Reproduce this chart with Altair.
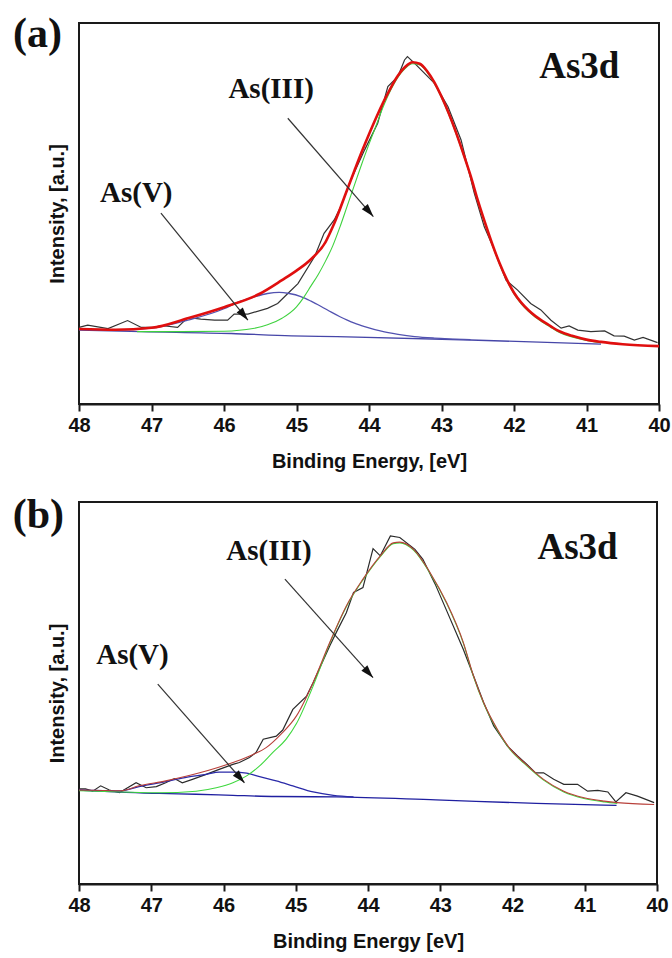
import math
import altair as alt
import pandas as pd

# ---------------- Panel (a): As3d spectrum and peak fit ----------------
# Binding energy (eV) / intensity (a.u.) pairs for each trace
A_RAW_E = [48.0, 47.88, 47.6, 47.33, 47.14, 46.96, 46.87, 46.64, 46.5, 46.32, 46.13, 45.95,
           45.86, 45.67, 45.4, 45.26, 45.12, 44.98, 44.75, 44.62, 44.48, 44.39, 44.25, 44.06,
           43.88, 43.74, 43.6, 43.51, 43.47, 43.37, 43.1, 42.91, 42.73, 42.55, 42.41, 42.27,
           42.11, 41.95, 41.77, 41.63, 41.49, 41.35, 41.24, 41.12, 40.94, 40.75, 40.62, 40.48,
           40.34, 40.22, 40.02]
A_RAW_I = [20.1, 20.7, 19.8, 21.9, 20.1, 20.1, 20.6, 20.1, 22.7, 22.3, 22.0, 22.0,
           23.6, 23.6, 25.1, 26.4, 29.0, 31.6, 38.7, 44.8, 48.3, 51.8, 58.8, 66.7,
           73.7, 83.3, 86.0, 90.3, 91.2, 89.4, 84.2, 78.0, 69.3, 55.5, 46.5, 40.4,
           32.5, 29.9, 26.4, 24.7, 22.0, 19.9, 20.5, 19.4, 19.0, 19.2, 17.9, 17.8,
           16.8, 17.5, 16.1]

A_ENV_E = [48.0, 47.5, 47.0, 46.5, 46.0, 45.5, 45.2, 45.0, 44.8, 44.6, 44.5, 44.4, 44.3,
           44.2, 44.1, 44.0, 43.9, 43.8, 43.7, 43.6, 43.5, 43.4, 43.3, 43.2, 43.1, 43.0,
           42.9, 42.8, 42.7, 42.6, 42.5, 42.4, 42.3, 42.2, 42.1, 42.0, 41.9, 41.8, 41.7,
           41.6, 41.5, 41.4, 41.3, 41.2, 41.0, 40.8, 40.5, 40.0]
A_ENV_I = [19.7, 19.5, 20.0, 22.5, 25.4, 29.0, 32.5, 35.0, 38.0, 42.5, 46.5, 51.2, 56.3,
           61.3, 66.2, 70.8, 75.2, 79.3, 83.0, 86.2, 88.5, 89.7, 89.3, 87.4, 84.5, 80.7,
           76.3, 71.3, 65.8, 60.0, 53.5, 47.6, 42.0, 37.0, 32.7, 29.2, 26.6, 24.6, 23.0,
           21.7, 20.5, 19.3, 18.5, 17.9, 16.9, 16.3, 15.7, 15.2]

A_III_E = [47.2, 46.6, 46.0, 45.6, 45.4, 45.2, 45.0, 44.9, 44.8, 44.7, 44.6, 44.5, 44.4,
           44.3, 44.2, 44.1, 44.0, 43.9, 43.8, 43.7, 43.6, 43.5, 43.4, 43.3, 43.2, 43.1,
           43.0, 42.9, 42.8, 42.7, 42.6, 42.5, 42.4, 42.3, 42.2, 42.1, 42.0, 41.9, 41.8,
           41.7, 41.6, 41.5, 41.4, 41.3, 41.2, 41.0, 40.8]
A_III_I = [19.0, 19.0, 19.1, 19.8, 20.8, 22.5, 25.5, 28.0, 31.0, 34.0, 37.5, 41.5, 46.5,
           52.0, 57.5, 63.0, 68.2, 73.2, 78.2, 82.4, 85.8, 88.1, 89.3, 89.0, 87.1, 84.2,
           80.4, 76.0, 71.0, 65.5, 59.7, 53.2, 47.3, 41.7, 36.7, 32.4, 28.9, 26.3, 24.3,
           22.7, 21.4, 20.2, 19.0, 18.2, 17.6, 16.7, 16.1]

A_V_E = [48.0, 47.5, 47.0, 46.5, 46.0, 45.8, 45.6, 45.4, 45.24, 45.1, 44.94, 44.8, 44.66,
         44.52, 44.4, 44.3, 44.2, 44.06, 43.83, 43.6, 43.37, 43.1, 42.9, 42.6]
A_V_I = [19.6, 19.4, 19.9, 22.0, 25.0, 26.8, 28.0, 29.0, 29.3, 29.0, 28.2, 27.0, 25.6,
         24.1, 22.9, 22.0, 21.2, 20.3, 19.1, 18.3, 17.7, 17.3, 17.1, 16.9]

A_BG_E = [48.0, 47.14, 45.9, 45.07, 44.44, 42.6, 40.8]
A_BG_I = [19.4, 19.0, 18.5, 17.9, 17.7, 16.8, 15.7]

# ---------------- Panel (b): As3d spectrum and peak fit ----------------
B_RAW_E = [48.0, 47.91, 47.81, 47.7, 47.58, 47.44, 47.38, 47.21, 47.07, 46.93, 46.8, 46.68,
           46.57, 46.43, 46.24, 46.06, 45.87, 45.78, 45.64, 45.55, 45.45, 45.27, 45.18, 45.04,
           44.85, 44.76, 44.53, 44.43, 44.3, 44.2, 44.07, 43.93, 43.83, 43.69, 43.56, 43.35,
           43.24, 43.07, 42.91, 42.68, 42.54, 42.4, 42.26, 42.07, 41.93, 41.8, 41.68, 41.57,
           41.43, 41.29, 41.1, 40.96, 40.82, 40.68, 40.57, 40.43, 40.27, 40.04]
B_RAW_I = [24.9, 24.9, 24.3, 25.7, 24.6, 23.9, 24.6, 26.5, 25.2, 25.5, 26.5, 27.6,
           26.5, 27.4, 28.7, 30.0, 31.3, 31.8, 33.1, 34.4, 37.9, 38.7, 40.3, 45.7,
           49.2, 52.7, 62.3, 66.2, 71.0, 76.3, 77.6, 87.8, 85.9, 91.1, 90.7, 87.6,
           85.0, 78.5, 71.5, 61.4, 54.5, 47.5, 41.4, 36.1, 33.5, 31.3, 29.1, 29.1,
           27.4, 26.1, 26.1, 24.3, 24.5, 24.1, 21.5, 23.9, 23.0, 21.3]

B_ENV_E = [48.0, 47.42, 47.17, 46.8, 46.33, 45.87, 45.59, 45.41, 45.2, 44.99, 44.76, 44.53,
           44.3, 44.07, 43.83, 43.65, 43.56, 43.37, 43.14, 42.91, 42.68, 42.54, 42.4, 42.21,
           42.03, 41.84, 41.57, 41.29, 41.01, 40.73, 40.55, 40.04]
B_ENV_I = [24.6, 24.4, 25.7, 27.0, 29.1, 31.8, 33.9, 35.7, 39.3, 44.0, 52.7, 63.2,
           72.8, 79.8, 85.9, 89.3, 89.5, 87.6, 81.5, 73.6, 63.2, 54.5, 47.5, 40.5,
           35.3, 31.8, 27.4, 24.3, 22.6, 21.7, 21.3, 20.8]

B_III_E = [48.0, 47.42, 46.89, 46.38, 46.1, 45.87, 45.68, 45.5, 45.32, 45.13, 44.99, 44.76,
           44.53, 44.3, 44.07, 43.83, 43.65, 43.56, 43.37, 43.14, 42.91, 42.68, 42.54, 42.4,
           42.21, 42.03, 41.84, 41.57, 41.29, 41.01, 40.73, 40.55]
B_III_I = [24.4, 24.1, 23.9, 24.3, 25.2, 26.5, 28.3, 30.9, 34.4, 38.0, 42.0, 51.8,
           63.0, 72.6, 79.6, 85.7, 89.1, 89.3, 87.4, 81.3, 73.4, 63.0, 54.3, 47.3,
           40.3, 35.1, 31.6, 27.2, 24.1, 22.4, 21.5, 21.1]

B_V_E = [48.0, 47.42, 47.17, 46.8, 46.5, 46.24, 46.06, 45.87, 45.68, 45.5, 45.27, 45.04,
         44.76, 44.48, 44.2]
B_V_I = [24.6, 24.4, 25.5, 26.8, 28.0, 28.7, 29.3, 29.3, 29.0, 28.1, 27.0, 25.7,
         24.1, 23.2, 22.8]

B_BG_E = [48.0, 46.89, 46.38, 45.87, 45.27, 44.44, 43.06, 41.67, 40.56]
B_BG_I = [24.6, 23.7, 23.5, 23.2, 22.9, 22.8, 22.0, 21.1, 20.6]

# ---------------- Annotations (data coordinates) ----------------
LABELS_A = ["(a)", "As3d", "As(III)", "As(V)"]
LABELS_A_E = [48.572, 41.10, 45.35, 47.21]
LABELS_A_I = [93.7, 85.6, 80.3, 53.0]
LABELS_B = ["(b)", "As3d", "As(III)", "As(V)"]
LABELS_B_E = [48.5625, 41.10, 45.37, 47.26]
LABELS_B_I = [93.2, 85.1, 84.8, 57.6]
LABEL_SIZES = [42, 37, 29, 29]

# arrow start E, start I, tip E, tip I
ARROWS_A = [[45.12, 75.0, 43.94, 49.2], [46.87, 50.1, 45.67, 22.0]]
ARROWS_B = [[45.15, 79.8, 43.93, 54.0], [46.91, 52.3, 45.71, 26.5]]

X_TICKS = [40, 41, 42, 43, 44, 45, 46, 47, 48]

SERIF = "Liberation Serif"
SANS = "Liberation Sans"


def curve(e, i):
    return pd.DataFrame({"E": e, "I": i})


def panel(raw, env, comp3, comp5, bg, labels, arrows, xtitle, w, h, styles):
    px_e = w / 8.0
    px_i = h / 100.0
    xs = alt.Scale(domain=[40, 48], reverse=True, nice=False, zero=False)
    ys = alt.Scale(domain=[0, 100], nice=False, zero=False)
    x = alt.X("E:Q", scale=xs,
              axis=alt.Axis(values=X_TICKS, format="d", title=xtitle, grid=False))
    y = alt.Y("I:Q", scale=ys,
              axis=alt.Axis(title="Intensity, [a.u.]", labels=False, ticks=False,
                            domain=False, grid=False))
    order = alt.Order("E:Q", sort="descending")

    def fit_line(df, color, width):
        return alt.Chart(df).mark_line(color=color, strokeWidth=width,
                                       interpolate="monotone").encode(x=x, y=y, order=order)

    raw_layer = alt.Chart(raw).mark_line(color=styles["raw"], strokeWidth=1.2).encode(
        x=x, y=y, order=order)
    bg_layer = fit_line(bg, styles["bg"], styles["bgw"])
    v_layer = fit_line(comp5, styles["v"], styles["vw"])
    iii_layer = fit_line(comp3, styles["iii"], 1.1)
    env_layer = fit_line(env, styles["env"], styles["envw"])

    arr = pd.DataFrame(arrows, columns=["E", "I", "E2", "I2"])
    arr["angle"] = [math.degrees(math.atan2((a[0] - a[2]) * px_e, (a[3] - a[1]) * px_i))
                    for a in arrows]
    shafts = alt.Chart(arr).mark_rule(color="#333333", strokeWidth=1.2).encode(
        x="E:Q", y="I:Q", x2="E2:Q", y2="I2:Q")
    heads = alt.Chart(arr).mark_point(
        shape="M0,0L-0.8,2.6L0.8,2.6Z", filled=True, color="#111111", opacity=1,
        size=100).encode(
        x=alt.X("E2:Q", scale=xs),
        y=alt.Y("I2:Q", scale=ys),
        angle=alt.Angle("angle:Q", scale=None))

    text = alt.Chart(labels).mark_text(font=SERIF, fontWeight="bold", color="#111111",
                                       align="center", baseline="alphabetic").encode(
        x=x, y=y, text="label:N", size=alt.Size("size:Q", scale=None))

    return alt.layer(raw_layer, bg_layer, v_layer, iii_layer, env_layer, shafts, heads,
                     text).properties(width=w, height=h)


labels_a = pd.DataFrame({"E": LABELS_A_E, "I": LABELS_A_I, "label": LABELS_A,
                         "size": LABEL_SIZES})
labels_b = pd.DataFrame({"E": LABELS_B_E, "I": LABELS_B_I, "label": LABELS_B,
                         "size": LABEL_SIZES})

style_a = {"raw": "#333333", "bg": "#4646a8", "bgw": 1.3, "v": "#5252b0", "vw": 1.3,
           "iii": "#3fd23f", "env": "#e00f0f", "envw": 2.6}
style_b = {"raw": "#2a2a2a", "bg": "#1f1fa0", "bgw": 1.3, "v": "#2a2aa8", "vw": 1.3,
           "iii": "#3fd83f", "env": "#b8403a", "envw": 1.1}

top = panel(curve(A_RAW_E, A_RAW_I), curve(A_ENV_E, A_ENV_I), curve(A_III_E, A_III_I),
            curve(A_V_E, A_V_I), curve(A_BG_E, A_BG_I), labels_a, ARROWS_A,
            "Binding Energy, [eV]", 580, 381, style_a)
bottom = panel(curve(B_RAW_E, B_RAW_I), curve(B_ENV_E, B_ENV_I), curve(B_III_E, B_III_I),
               curve(B_V_E, B_V_I), curve(B_BG_E, B_BG_I), labels_b, ARROWS_B,
               "Binding Energy [eV]", 578, 382, style_b)

chart = alt.vconcat(top, bottom, spacing=20).properties(
    padding={"left": 11, "top": 12, "right": 0, "bottom": 0},
    background="white",
).configure_view(
    stroke="#1a1a1a", strokeWidth=2
).configure_axis(
    labelFont=SANS, labelFontWeight="bold", labelFontSize=20, labelColor="#111111",
    titleFont=SANS, titleFontWeight="bold", titleFontSize=20, titleColor="#111111",
    domainColor="#1a1a1a", domainWidth=2, tickColor="#1a1a1a", tickWidth=2,
).configure_axisX(
    tickSize=7, labelPadding=4, titlePadding=16, labelFlush=False
).configure_axisY(
    titlePadding=12
)

chart.save("out.html", embed_options={"renderer": "svg", "actions": False})
